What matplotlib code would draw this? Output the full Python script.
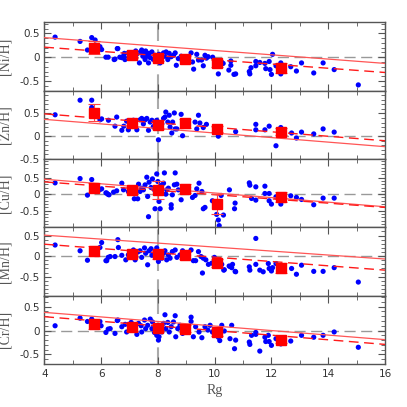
import numpy as np
import matplotlib
matplotlib.use('Agg')
import matplotlib.pyplot as plt
from matplotlib.ticker import FixedLocator, MultipleLocator

# mean points (red squares)
rg_mean = [5.75, 7.1, 8.0, 8.95, 10.1, 12.35]

ni_x = [4.38, 5.26, 5.52, 5.67, 5.79, 5.96, 6.02, 6.17, 6.25, 6.46, 6.57, 6.66, 6.8, 6.84,
        6.49, 6.59, 6.73, 6.82, 6.87, 6.96, 7.06, 7.17, 7.22, 7.29, 7.35, 7.39, 7.43, 7.47,
        7.53, 7.55, 7.57, 7.62, 7.67, 7.69, 7.73, 7.79, 7.84, 7.9, 8.0, 8.04, 8.08, 8.14,
        8.2, 8.25, 8.29, 8.35, 8.4, 8.47, 8.55, 8.61, 8.65, 8.72, 8.82, 8.87, 9.05, 9.17,
        9.22, 9.26, 9.37, 9.43, 9.54, 9.6, 9.66, 9.71, 9.77, 9.93, 10.13, 10.13, 10.24, 10.3,
        10.5, 10.57, 10.57, 10.68, 10.74, 11.22, 11.24, 11.28, 11.45, 11.45, 11.59, 11.77,
        11.8, 11.92, 11.95, 12.0, 12.04, 12.16, 12.33, 12.33, 12.68, 12.88, 13.06, 13.49,
        13.82, 14.21, 15.06]
ni_y = [0.42, 0.33, 0.15, 0.41, 0.36, 0.22, 0.16, 0.0, 0.0, -0.05, 0.18, 0.0, 0.04, -0.05,
        -0.04, 0.18, -0.01, 0.08, -0.03, 0.09, 0.06, 0.01, 0.13, 0.08, -0.12, 0.11, 0.15, 0.02,
        0.08, -0.05, 0.13, 0.02, -0.12, 0.08, -0.01, 0.11, -0.05, 0.04, -0.06, 0.06, -0.12, -0.01,
        0.09, 0.02, 0.11, -0.05, 0.08, 0.01, 0.04, 0.09, -0.17, -0.03, 0.02, -0.05, -0.10, 0.09,
        -0.10, -0.25, 0.06, -0.06, -0.06, -0.18, 0.04, -0.02, 0.01, 0.0, -0.35, -0.17, -0.10, -0.13,
        -0.27, -0.08, -0.17, -0.36, -0.35, -0.30, -0.35, -0.22, -0.09, -0.18, -0.11, -0.13,
        -0.24, -0.09, -0.26, -0.36, 0.06, -0.18, -0.12, -0.35, -0.20, -0.29, -0.12, -0.33,
        -0.12, -0.26, -0.58]
ni_mean = [0.20, 0.04, -0.01, -0.03, -0.13, -0.23]
ni_err = [0.14, 0.06, 0.07, 0.06, 0.08, 0.10]
ni_fit = [0.41, -0.13]
ni_fit2 = [0.21, -0.32]

zn_x = [4.38, 5.26, 5.67, 5.67, 5.96, 6.02, 6.26, 6.49, 6.55, 6.73, 6.8, 6.9, 6.96, 7.14,
        7.26, 7.37, 7.43, 7.49, 7.55, 7.61, 7.67, 7.73, 7.79, 7.84, 7.96, 8.02, 8.08, 8.14,
        8.2, 8.25, 8.28, 8.35, 8.4, 8.43, 8.49, 8.52, 8.58, 8.61, 8.67, 8.82, 8.87, 9.31,
        9.37, 9.43, 9.48, 9.6, 9.71, 10.13, 10.18, 10.74, 11.45, 11.45, 11.77, 11.92, 12.16,
        12.33, 12.71, 12.88, 13.06, 13.49, 13.82, 14.21]
zn_y = [0.47, 0.79, 0.79, 0.63, 0.36, 0.38, 0.35, 0.22, 0.42, 0.13, 0.22, 0.33, 0.14, 0.35,
        0.14, 0.36, 0.39, 0.27, 0.36, 0.39, 0.13, 0.31, 0.35, 0.21, 0.35, -0.08, 0.20, 0.27,
        0.39, 0.42, 0.53, 0.31, 0.46, 0.20, 0.07, 0.31, 0.51, 0.16, 0.16, 0.48, 0.01, 0.31,
        0.16, 0.46, 0.29, 0.19, 0.26, 0.0, 0.19, 0.10, 0.26, 0.14, 0.14, 0.22, -0.21,
        0.19, 0.07, -0.04, 0.09, 0.05, 0.16, 0.09]
zn_mean = [0.52, 0.28, 0.25, 0.28, 0.16, 0.10]
zn_err = [0.18, 0.08, 0.10, 0.10, 0.07, 0.08]
zn_fit = [0.37, -0.23]
zn_fit2 = [0.49, -0.10]

cu_x = [4.38, 5.26, 5.52, 5.67, 5.96, 6.17, 6.25, 6.02, 6.2, 6.28, 6.44, 6.55, 6.73, 6.79,
        6.96, 7.17, 7.29, 7.32, 7.37, 7.43, 7.49, 7.55, 7.61, 7.64, 7.67, 7.69, 7.76, 7.81,
        7.88, 7.9, 7.96, 8.0, 8.04, 8.08, 8.11, 8.2, 8.23, 8.28, 8.31, 8.37, 8.47, 8.47,
        8.51, 8.58, 8.61, 8.67, 8.72, 8.82, 9.08, 9.22, 9.31, 9.37, 9.45, 9.55, 9.6, 9.66,
        9.92, 10.07, 10.13, 10.16, 10.23, 10.31, 10.52, 10.7, 10.72, 11.22, 11.24, 11.45,
        11.3, 11.45, 11.77, 11.77, 11.92, 11.92, 12.0, 12.16, 12.33, 12.68, 12.88, 13.06,
        13.49, 13.82, 14.21, 10.13]
cu_y = [0.34, 0.47, -0.03, 0.44, 0.14, 0.04, -0.01, 0.16, 0.03, -0.02, 0.06, 0.10, 0.33, 0.13,
        0.08, -0.14, -0.14, 0.30, 0.08, 0.18, 0.13, 0.28, 0.51, -0.07, -0.68, 0.36, 0.20, 0.46,
        0.13, -0.44, 0.61, 0.38, -0.22, -0.44, 0.26, 0.33, 0.64, 0.0, 0.13, 0.18, -0.32, -0.42,
        -0.02, 0.28, 0.64, 0.30, 0.13, -0.17, 0.20, -0.10, -0.04, 0.16, 0.33, 0.08, -0.44, -0.40,
        -0.20, -0.61, -0.78, -0.95, -0.04, -0.63, 0.13, -0.44, -0.27, 0.34, 0.27, 0.22,
        -0.13, -0.18, 0.24, 0.02, 0.02, -0.20, -0.30, -0.08, -0.30, -0.05, -0.10, -0.16,
        -0.32, -0.12, -0.12, -0.27]
cu_mean = [0.20, 0.12, 0.12, 0.17, -0.31, -0.08]
cu_err = [0.13, 0.10, 0.27, 0.13, 0.30, 0.15]
cu_fit = [0.45, -0.38]
cu_fit2 = [0.37, -0.40]

mn_x = [4.38, 5.26, 5.52, 5.67, 5.96, 6.02, 6.17, 6.25, 6.2, 6.32, 6.49, 6.59, 6.61, 6.73,
        6.87, 6.96, 7.08, 7.14, 7.2, 7.29, 7.37, 7.43, 7.53, 7.57, 7.64, 7.69, 7.76, 7.79,
        7.88, 7.96, 8.02, 8.08, 8.14, 8.2, 8.25, 8.31, 8.37, 8.43, 8.51, 8.61, 8.67, 8.78,
        8.87, 9.17, 9.25, 9.33, 9.43, 9.52, 9.57, 9.6, 9.69, 9.78, 9.9, 9.99, 10.25, 10.34,
        10.54, 10.63, 10.72, 11.45, 10.32, 10.51, 10.6, 10.74, 11.22, 11.24, 11.45, 11.59,
        11.71, 11.89, 11.92, 12.0, 12.04, 12.16, 12.71, 12.88, 13.06, 13.49, 13.82, 14.21,
        15.06]
mn_y = [0.27, 0.13, -0.10, 0.07, 0.21, 0.33, -0.11, -0.03, -0.11, -0.01, -0.01, 0.40, 0.21, 0.02,
        -0.09, 0.03, 0.07, 0.15, -0.09, 0.10, 0.13, -0.03, 0.20, 0.07, -0.21, 0.13, 0.18, 0.02,
        0.07, 0.20, -0.13, -0.01, -0.05, 0.07, 0.13, -0.09, 0.03, -0.05, 0.11, 0.15, -0.03, 0.03,
        0.13, 0.15, -0.11, -0.11, 0.11, -0.01, -0.41, -0.05, -0.09, -0.20, -0.17, -0.03, -0.20, -0.33,
        -0.25, -0.20, -0.37, 0.43, -0.34, -0.24, -0.28, -0.38, -0.26, -0.34, -0.20, -0.34,
        -0.38, -0.18, -0.30, -0.36, -0.28, -0.18, -0.30, -0.44, -0.22, -0.37, -0.37, -0.28,
        -0.63]
mn_mean = [0.12, 0.06, 0.04, 0.02, -0.16, -0.28]
mn_err = [0.12, 0.08, 0.10, 0.08, 0.10, 0.12]
mn_fit = [0.51, -0.07]
mn_fit2 = [0.29, -0.34]

cr_x = [4.38, 5.26, 5.52, 5.67, 5.96, 6.0, 6.17, 6.25, 6.49, 6.57, 6.32, 6.59, 6.73, 6.85,
        6.9, 7.02, 7.06, 7.14, 7.26, 7.32, 7.41, 7.43, 7.53, 7.57, 7.64, 7.73, 7.79, 7.81,
        7.88, 7.96, 8.02, 8.04, 8.08, 8.14, 8.2, 8.25, 8.28, 8.35, 8.4, 8.47, 8.55, 8.61,
        8.63, 8.7, 8.78, 8.87, 9.17, 9.17, 9.25, 9.33, 9.45, 9.55, 9.66, 9.76, 9.84, 9.92,
        10.13, 10.18, 10.25, 10.34, 10.54, 10.6, 10.7, 10.74, 11.22, 11.24, 11.3, 11.45,
        11.45, 11.59, 11.77, 11.8, 11.89, 11.92, 12.0, 12.16, 12.33, 12.68, 13.06, 13.49,
        13.82, 14.21, 15.06]
cr_y = [0.10, 0.26, 0.19, 0.24, 0.19, 0.10, -0.04, 0.03, -0.06, 0.21, 0.04, 0.22, 0.08, 0.13,
        -0.03, 0.04, 0.17, 0.11, -0.08, 0.15, 0.10, -0.03, 0.22, 0.04, 0.11, 0.24, 0.04, 0.18,
        -0.04, -0.10, -0.20, -0.13, 0.10, -0.03, 0.15, 0.33, 0.04, 0.17, -0.03, 0.08, 0.18, 0.31,
        -0.13, 0.04, 0.11, -0.06, 0.28, 0.19, -0.13, 0.08, -0.03, -0.15, 0.08, 0.01, 0.11, -0.03,
        -0.14, -0.21, 0.11, -0.01, -0.17, 0.11, -0.38, -0.20, -0.24, -0.29, -0.10, -0.04,
        -0.08, -0.43, -0.14, -0.23, -0.10, -0.23, -0.31, -0.17, -0.28, -0.22, -0.10, -0.14,
        -0.10, -0.03, -0.35]
cr_mean = [0.14, 0.07, 0.06, 0.04, -0.04, -0.19]
cr_err = [0.10, 0.07, 0.07, 0.07, 0.07, 0.08]
cr_fit = [0.38, -0.19]
cr_fit2 = [0.29, -0.29]

fit_x = [4, 16]

panels = [
    ('[Ni/H]', ni_x, ni_y, ni_mean, ni_err, ni_fit, ni_fit2, (-0.7, 0.73)),
    ('[Zn/H]', zn_x, zn_y, zn_mean, zn_err, zn_fit, zn_fit2, (-0.5, 1.0)),
    ('[Cu/H]', cu_x, cu_y, cu_mean, cu_err, cu_fit, cu_fit2, (-1.0, 1.06)),
    ('[Mn/H]', mn_x, mn_y, mn_mean, mn_err, mn_fit, mn_fit2, (-0.96, 0.70)),
    ('[Cr/H]', cr_x, cr_y, cr_mean, cr_err, cr_fit, cr_fit2, (-0.7, 0.73)),
]

fig, axes = plt.subplots(5, 1, sharex=True, figsize=(4.07, 4.07), dpi=100)
fig.subplots_adjust(left=44.3/407, right=385/407, top=1-22.3/407, bottom=1-364/407, hspace=0)

for ax, (lab, xs, ys, mean, err, fit, fit2, ylim) in zip(axes, panels):
    ax.axhline(0, color='#999999', lw=1, dashes=(8, 4), zorder=1)
    ax.axvline(8, color='#aaaaaa', lw=1.5, dashes=(8, 4), zorder=1)
    ax.scatter(xs, ys, s=14, color='#0000ff', edgecolors='none', zorder=3)
    ax.plot(fit_x, fit, color='#ff5555', lw=0.9, zorder=4)
    ax.plot(fit_x, fit2, color='#ff1a1a', lw=1.0, dashes=(7, 4), zorder=4)
    ax.errorbar(rg_mean, mean, yerr=err, fmt='s', color='#ff0000', ms=7,
                ecolor='#ff4444', elinewidth=0.8, capsize=4, capthick=0.8, zorder=5)
    ax.set_xlim(4, 16)
    ax.set_ylim(*ylim)
    ax.yaxis.set_major_locator(FixedLocator([-0.5, 0, 0.5]))
    ax.yaxis.set_major_formatter(plt.FixedFormatter(['-0.5', '0', '0.5']))
    ax.yaxis.set_minor_locator(MultipleLocator(0.1))
    ax.xaxis.set_major_locator(MultipleLocator(2))
    ax.xaxis.set_minor_locator(MultipleLocator(1))
    ax.tick_params(which='both', direction='in', top=True, right=True, colors='#555555',
                   labelcolor='#333333', labelsize=7.5)
    ax.tick_params(which='major', length=5, width=0.8)
    ax.tick_params(which='minor', length=3, width=0.6)
    for sp in ax.spines.values():
        sp.set_color('#555555')
        sp.set_linewidth(1.0)
    ax.set_ylabel(lab, family='Liberation Serif', fontsize=10, color='#555555')
    ax.yaxis.set_label_coords(-0.095, 0.5)

axes[-1].set_xlabel('Rg', family='Liberation Serif', fontsize=10, color='#555555')

plt.savefig('out.png', dpi=100)
